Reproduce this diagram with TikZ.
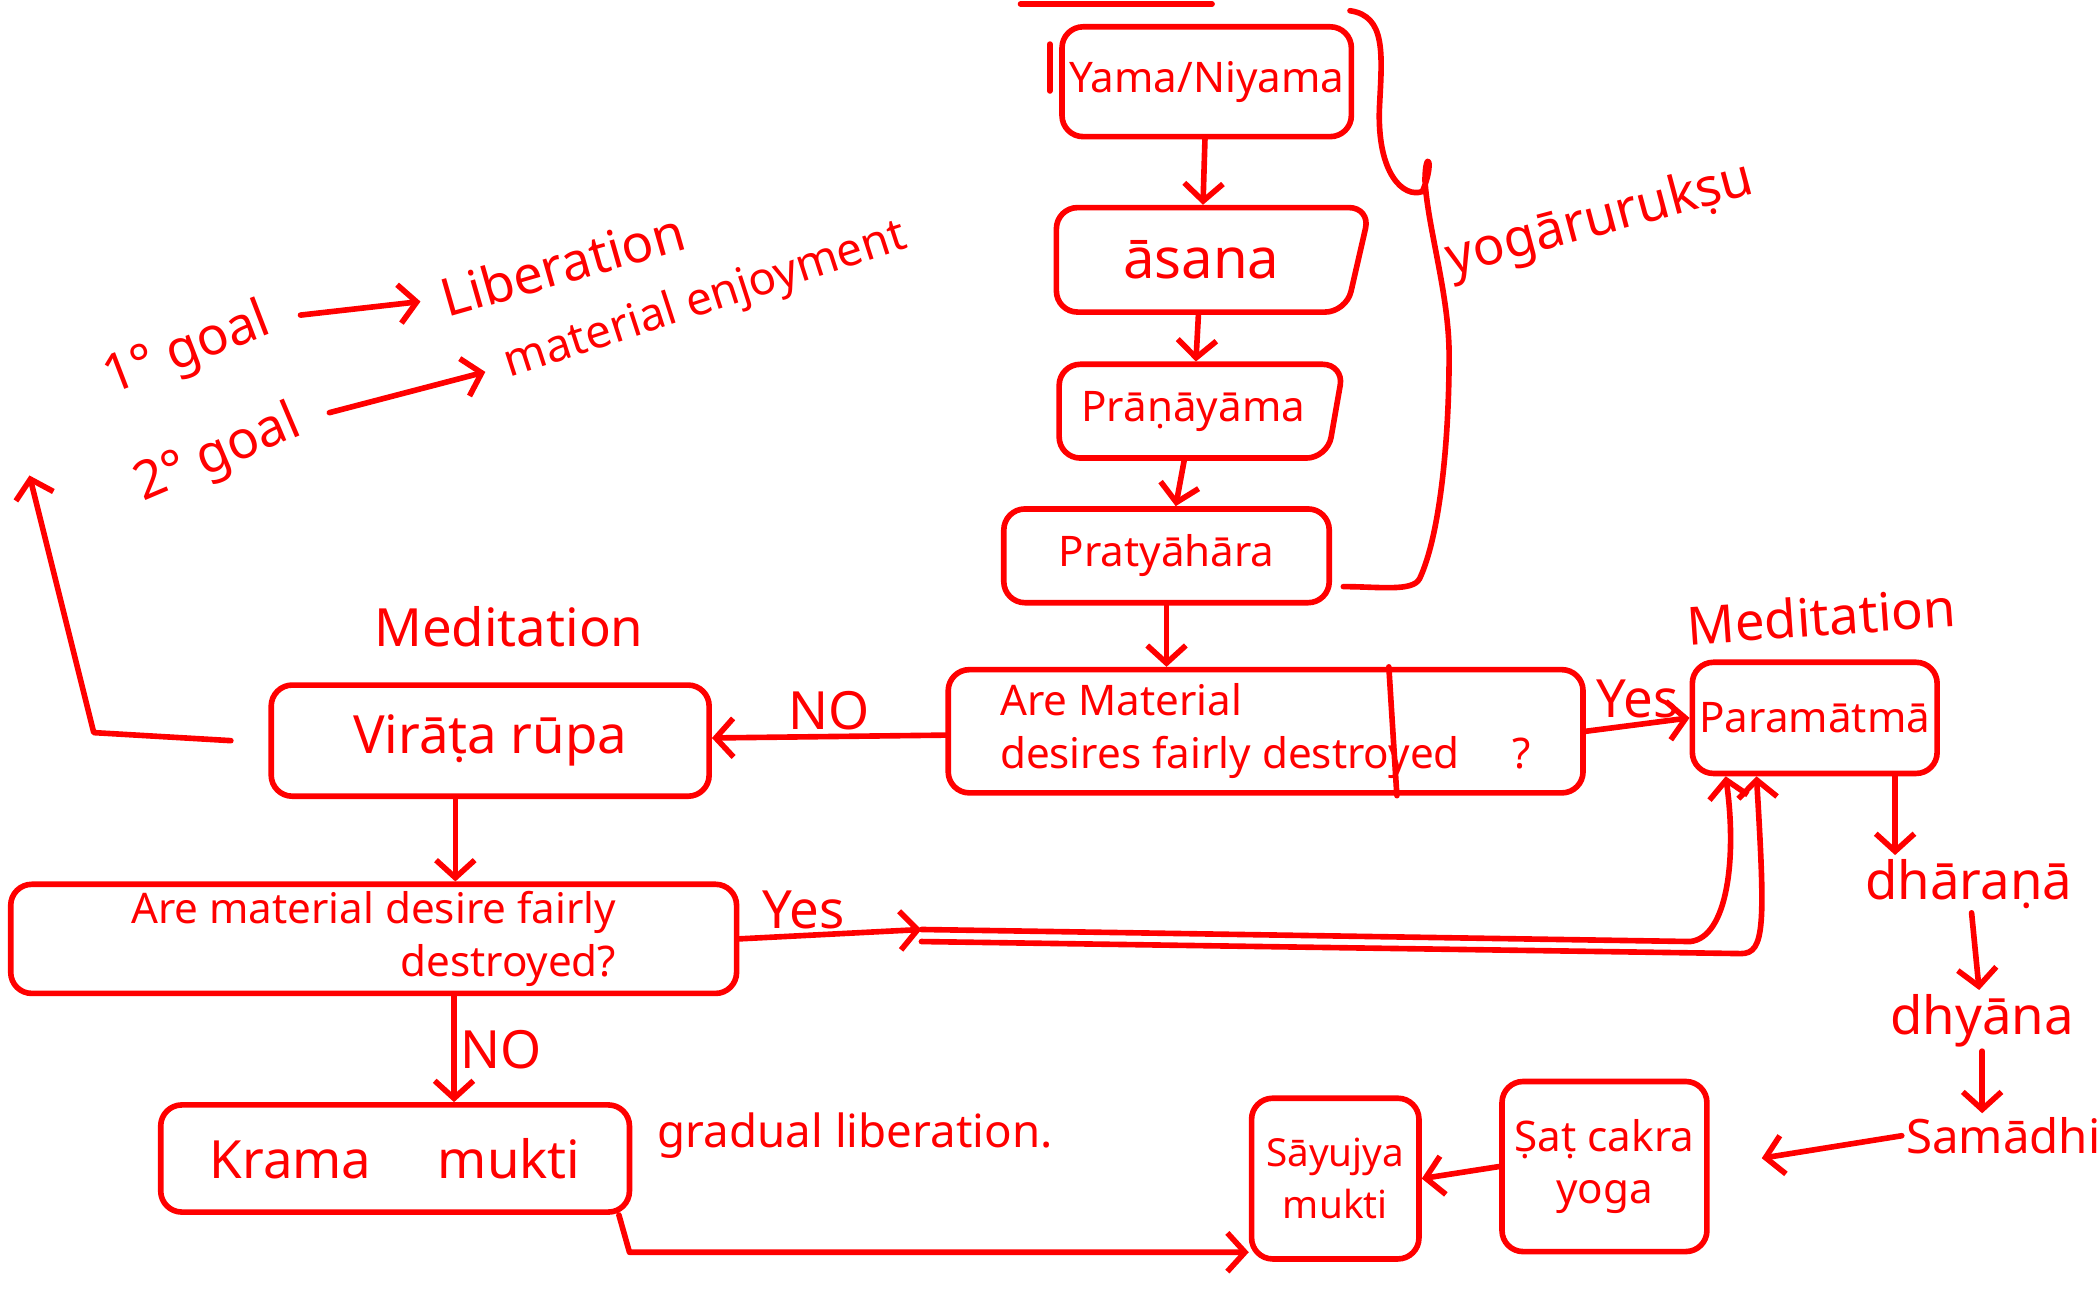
\documentclass[tikz,border=0pt]{standalone}
\usepackage{fontspec}
\setmainfont{Noto Sans}
\usetikzlibrary{arrows.meta}
\usetikzlibrary{positioning}
\usetikzlibrary{shapes.geometric}
\newcommand{\spx}{0.01339cm}
\tikzset{
  box/.style={draw=red, text=red, line width=1.6pt, rounded corners=6pt, inner sep=2pt, font=\fontsize{12}{15}\selectfont},
  slant/.style={box, trapezium, trapezium left angle=90, trapezium right angle=105, trapezium stretches=true},
  conn/.style={red, line width=1.6pt, -{Straight Barb[length=5pt,width=11pt]}},
  stroke/.style={red, line width=1.6pt},
  lbl/.style={text=red, inner sep=1pt, font=\fontsize{15}{18}\selectfont},
}
\begin{document}
\begin{tikzpicture}[line cap=round, line join=round, x=\spx, y=-\spx]
\useasboundingbox (0,0) rectangle (1568,962);
\draw[stroke] (762,3) -- (905,3);

% the eight limbs, first four
\node[box, minimum width=182*\spx, minimum height=82*\spx] (yama) at (901,61) {Yama/Niyama};
\node[slant, minimum width=235*\spx, minimum height=78*\spx, font=\fontsize{16}{18}\selectfont] (asana) at (897,194) {āsana};
\node[slant, minimum width=213*\spx, minimum height=70*\spx] (prana) at (891,307) {Prāṇāyāma};
\node[box, minimum width=243*\spx, minimum height=70*\spx] (pratya) at (871,415) {Pratyāhāra};
\draw[stroke] ([shift={(-7,15)}]yama.north west) -- ([shift={(-7,50)}]yama.north west);
\draw[conn] (yama) -- (asana);
\draw[conn] (asana) -- (prana);
\draw[conn] (prana) -- (pratya);

% brace
\draw[stroke] (1008,8) .. controls (1035,12) and (1032,40) .. (1030,80)
  .. controls (1028,130) and (1048,148) .. (1062,143)
  .. controls (1072,120) and (1064,110) .. (1064,135)
  .. controls (1066,170) and (1082,220) .. (1082,265)
  .. controls (1082,330) and (1075,400) .. (1060,432)
  .. controls (1055,442) and (1030,438) .. (1003,438);
\node[lbl, rotate=15] (yogaru) at (1195,165) {yogārurukṣu};

% first question
\node[box, minimum width=474*\spx, minimum height=92*\spx, align=left] (quest) at (945,546) {Are Material\\desires fairly destroyed \quad ?};
\draw[stroke] ([xshift=92*\spx]quest.north) -- ([xshift=98*\spx]quest.south);
\draw[conn] (pratya.south) -- (pratya.south |- quest.north);

% left branch
\node[box, minimum width=327*\spx, minimum height=83*\spx, font=\fontsize{15}{18}\selectfont] (virata) at (366,553) {Virāṭa rūpa};
\node[lbl] (medleft) at (380,468) {Meditation};
\draw[conn] (quest) -- node[lbl, above] {NO} (virata);
\coordinate (goalup) at (22,355);
\draw[conn] ([xshift=-28*\spx]virata.west) -- (70,547) -- (goalup);

% goals
\node[lbl, rotate=21] (goalone) at (140,262) {1° goal};
\node[lbl, rotate=16] (libera) at (420,197) {Liberation};
\node[lbl, rotate=23] (goaltwo) at (163,340) {2° goal};
\node[lbl, rotate=18, font=\fontsize{13}{16}\selectfont] (enjoy) at (527,225) {material enjoyment};
\draw[conn, shorten <=8pt, shorten >=5pt] (goalone.east) -- (libera.west);
\draw[conn, shorten <=8pt, shorten >=5pt] (goaltwo.east) -- (enjoy.west);

% right branch
\node[box, minimum width=170*\spx, minimum height=83*\spx] (param) at (1355,536) {Paramātmā};
\node[lbl, rotate=4] (medright) at (1360,460) {Meditation};
\draw[conn] (quest.east) -- node[lbl, above] {Yes} (param.west);
\node[lbl] (dharana) at (1470,660) {dhāraṇā};
\node[lbl] (dhyana) at (1480,762) {dhyāna};
\node[lbl, anchor=west, font=\fontsize{13.5}{16}\selectfont] (samadhi) at (1420,848) {Samādhi};
\draw[conn] ([xshift=60*\spx]param.south) -- ([xshift=60*\spx]param.south |- dharana.north);
\draw[conn] (dharana) -- (dhyana);
\draw[conn] (dhyana.south) -- (dhyana.south |- samadhi.north);

% bottom row
\node[box, minimum width=153*\spx, minimum height=127*\spx, align=center] (satcakra) at (1198,871) {Ṣaṭ cakra\\yoga};
\node[box, minimum width=125*\spx, minimum height=120*\spx, align=center, font=\fontsize{11}{15}\selectfont] (sayujya) at (997,880) {Sāyujya\\mukti};
\draw[conn, shorten >=15pt] (samadhi.west) -- (satcakra.east);
\draw[conn] (satcakra.west) -- (sayujya.east);

% second question
\node[box, minimum width=542*\spx, minimum height=78*\spx, align=right] (questtwo) at (279,701) {Are material desire fairly\\destroyed?};
\draw[conn] ([xshift=-26*\spx]virata.south) -- ([xshift=-26*\spx]virata.south |- questtwo.north);
\coordinate (yesmid) at (688,694);
\draw[conn] (questtwo.east) -- node[lbl, above, pos=0.35] {Yes} (yesmid);
\draw[conn] (yesmid) -- (1262,703) .. controls (1290,700) and (1297,640) .. ([xshift=27*\spx]param.south west);
\draw[conn] ([yshift=-9*\spx]yesmid) -- (1300,712) .. controls (1318,712) and (1318,690) .. ([xshift=50*\spx]param.south west);

% gradual liberation
\node[box, minimum width=350*\spx, minimum height=80*\spx, font=\fontsize{15}{18}\selectfont] (krama) at (295,865) {Krama \quad mukti};
\node[lbl, anchor=west, font=\fontsize{13}{16}\selectfont] (gradual) at (488,848) {gradual liberation.};
\draw[conn] ([xshift=60*\spx]questtwo.south) -- node[lbl, right] {NO} ([xshift=60*\spx]questtwo.south |- krama.north);
\coordinate (kramaturn) at (470,935);
\draw[conn] ([xshift=-10*\spx]krama.south east) -- (kramaturn) -- (kramaturn -| sayujya.west);
\end{tikzpicture}
\end{document}
